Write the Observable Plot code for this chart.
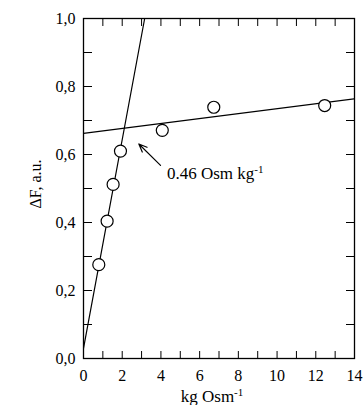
<!DOCTYPE html>
<html>
<head>
<meta charset="utf-8">
<script src="https://cdn.jsdelivr.net/npm/d3@7"></script>
<script src="https://cdn.jsdelivr.net/npm/@observablehq/plot@0.6"></script>
<style>
  html, body { margin: 0; padding: 0; background: white; }
  svg text { font-family: 'Liberation Serif', 'DejaVu Serif', serif !important; font-variant: normal !important; }
</style>
</head>
<body>
<div id="chart"></div>
<script>
// Data
const osmolality = [0.79, 1.22, 1.53, 1.91, 4.07, 6.73, 12.46];   // kg Osm^-1
const deltaF     = [0.276, 0.404, 0.512, 0.610, 0.671, 0.739, 0.744];
const steepFitX  = [0, 3.16];
const steepFitY  = [0.03, 1.0];
const flatFitX   = [0, 14];
const flatFitY   = [0.662, 0.764];
const xMinorTicks = [0,1,2,3,4,5,6,7,8,9,10,11,12,13,14];
const xMajorTicks = [0,2,4,6,8,10,12,14];
const yMinorTicks = [0,0.1,0.2,0.3,0.4,0.5,0.6,0.7,0.8,0.9,1.0];
const yMajorTicks = [0,0.2,0.4,0.6,0.8,1.0];
const annotation = {text: "0.46 Osm kg", sup: "-1", x: 4.31, y: 0.545, fromX: 3.98, fromY: 0.568, toX: 2.86, toY: 0.631};

const points = osmolality.map((x, i) => ({x, y: deltaF[i]}));
const steep = steepFitX.map((x, i) => ({x, y: steepFitY[i]}));
const flat = flatFitX.map((x, i) => ({x, y: flatFitY[i]}));
const fmtY = d => d.toFixed(1).replace(".", ",");

const font = "'Liberation Serif', 'DejaVu Serif', serif";

const plot = Plot.plot({
  width: 363,
  height: 405,
  marginLeft: 83,
  marginRight: 9,
  marginTop: 18,
  marginBottom: 47,
  style: {fontFamily: font, fontSize: "16px", background: "white", color: "black"},
  x: {domain: [0, 14]},
  y: {domain: [0, 1]},
  marks: [
    Plot.axisX(xMinorTicks, {anchor: "bottom", tickSize: -7, tickFormat: () => "", label: null}),
    Plot.axisX(xMinorTicks, {anchor: "top", tickSize: -7, tickFormat: () => "", label: null}),
    Plot.axisX(xMajorTicks, {anchor: "bottom", tickSize: 0, tickPadding: 11, fontSize: 16, fontFamily: font, label: null}),
    Plot.axisY(yMinorTicks, {anchor: "left", tickSize: -9, tickFormat: () => "", label: null}),
    Plot.axisY(yMinorTicks, {anchor: "right", tickSize: -9, tickFormat: () => "", label: null}),
    Plot.axisY(yMajorTicks, {anchor: "left", tickSize: 0, tickPadding: 8, tickFormat: fmtY, fontSize: 16, fontFamily: font, label: null}),
    Plot.frame({stroke: "black", strokeWidth: 1.3}),
    Plot.line(steep, {x: "x", y: "y", stroke: "black", strokeWidth: 1.2, clip: true}),
    Plot.line(flat, {x: "x", y: "y", stroke: "black", strokeWidth: 1.2, clip: true}),
    Plot.dot(points, {x: "x", y: "y", r: 6, fill: "white", stroke: "black", strokeWidth: 1.2}),
    Plot.arrow([annotation], {x1: "fromX", y1: "fromY", x2: "toX", y2: "toY", stroke: "black", strokeWidth: 1.2, headLength: 11, headAngle: 45}),
    Plot.text([annotation], {x: "x", y: "y", text: "text", textAnchor: "start", fontSize: 17, fontFamily: font, fill: "black"}),
    Plot.text(["ΔF, a.u."], {frameAnchor: "left", rotate: -90, dx: -48, dy: 20, fontSize: 16, fontFamily: font, fill: "black"}),
    Plot.text(["kg Osm"], {frameAnchor: "bottom", dx: -7, dy: 43, fontSize: 17, fontFamily: font, fill: "black"})
  ]
});

// superscripts
d3.select(plot).selectAll("text").each(function() {
  const t = this.textContent;
  if (t === "kg Osm" || t === annotation.text) {
    d3.select(this).append("tspan").attr("dy", "-0.5em").attr("font-size", "11px").text(annotation.sup);
  }
});

document.getElementById("chart").appendChild(plot);
</script>
</body>
</html>
